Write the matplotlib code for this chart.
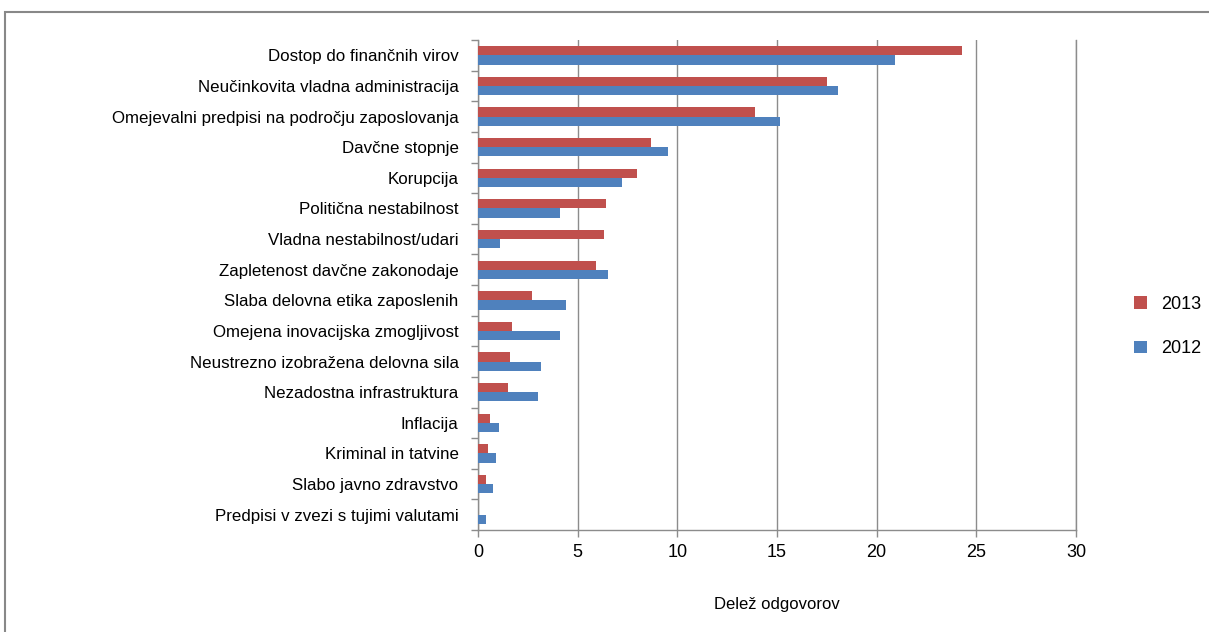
import numpy as np
import matplotlib.pyplot as plt
from matplotlib.patches import Rectangle

plt.rcParams['font.family'] = ['Liberation Sans Narrow', 'Liberation Sans', 'DejaVu Sans']

# Data
categories = [
    "Dostop do finančnih virov",
    "Neučinkovita vladna administracija",
    "Omejevalni predpisi na področju zaposlovanja",
    "Davčne stopnje",
    "Korupcija",
    "Politična nestabilnost",
    "Vladna nestabilnost/udari",
    "Zapletenost davčne zakonodaje",
    "Slaba delovna etika zaposlenih",
    "Omejena inovacijska zmogljivost",
    "Neustrezno izobražena delovna sila",
    "Nezadostna infrastruktura",
    "Inflacija",
    "Kriminal in tatvine",
    "Slabo javno zdravstvo",
    "Predpisi v zvezi s tujimi valutami",
]
vals_2013 = [24.3, 17.5, 13.9, 8.7, 8.0, 6.4, 6.3, 5.9, 2.7, 1.7, 1.6, 1.5, 0.6, 0.5, 0.4, 0.0]
vals_2012 = [20.9, 18.05, 15.15, 9.55, 7.2, 4.1, 1.1, 6.5, 4.4, 4.1, 3.15, 3.0, 1.05, 0.9, 0.75, 0.4]
x_ticks = [0, 5, 10, 15, 20, 25, 30]

red = '#C0504D'
blue = '#4F81BD'
grey = '#8C8C8C'

fig = plt.figure(figsize=(12.09, 6.32), dpi=100)
ax = fig.add_axes([478 / 1209, 1 - 530 / 632, (1076 - 478) / 1209, (530 - 40) / 632])

# outer chart frame
fig.patches.append(Rectangle((5 / 1209, -0.05), 1.2, 1 - 12 / 632 + 0.05,
                             transform=fig.transFigure, fill=False,
                             edgecolor='#888888', linewidth=1.5))

y = np.arange(len(categories))
h = 0.3
ax.barh(y - h / 2, vals_2013, height=h, color=red, label='2013', zorder=3)
ax.barh(y + h / 2, vals_2012, height=h, color=blue, label='2012', zorder=3)

ax.set_ylim(len(categories) - 0.5, -0.5)
ax.set_xlim(0, 30)
ax.set_xticks(x_ticks)
ax.set_xticklabels([str(t) for t in x_ticks], fontsize=13)
ax.set_yticks(y)
ax.set_yticklabels(categories, fontsize=12.2)
ax.tick_params(axis='y', length=0, pad=14)
ax.set_yticks(np.arange(-0.5, len(categories), 1), minor=True)
ax.tick_params(axis='y', which='minor', length=5, color=grey, width=1)
ax.tick_params(axis='x', length=5, color=grey, width=1, pad=5)

ax.grid(axis='x', color=grey, linewidth=1, zorder=0)
# last gridline sits on the axes edge, draw it unclipped
ax.axvline(x_ticks[-1], color=grey, linewidth=1, clip_on=False, zorder=0)
for s in ['top', 'right']:
    ax.spines[s].set_visible(False)
for s in ['left', 'bottom']:
    ax.spines[s].set_color(grey)
    ax.spines[s].set_linewidth(1)

ax.set_xlabel('Delež odgovorov', fontsize=12, labelpad=26)

ax.legend(loc='center left', bbox_to_anchor=(1.07, 0.415), frameon=False,
          fontsize=13, handlelength=0.7, handleheight=0.7, labelspacing=1.5)

plt.savefig('out.png', dpi=100)
